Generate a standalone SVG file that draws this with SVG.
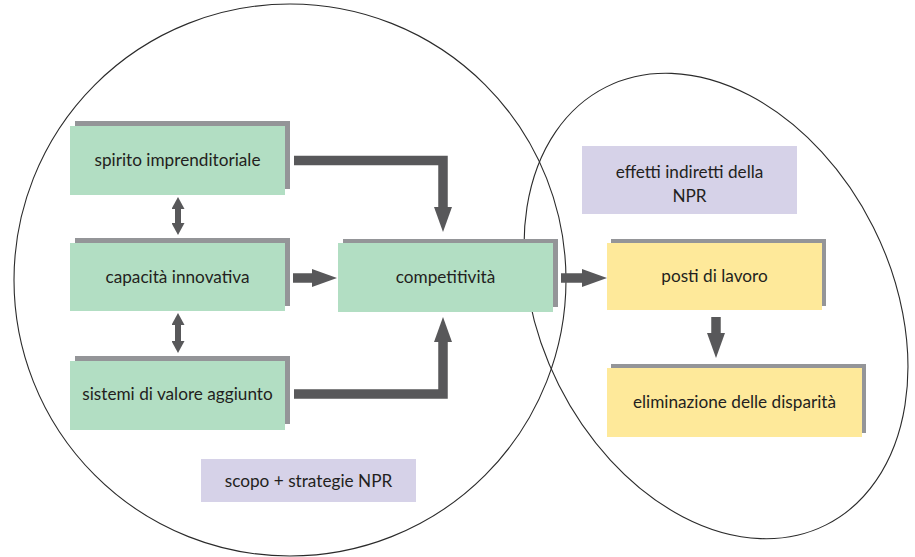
<svg xmlns="http://www.w3.org/2000/svg" width="915" height="557" viewBox="0 0 915 557">
<style>
.bg{fill:#ffffff}
.ring{fill:none;stroke:#2b2b2b;stroke-width:1.1}
.sh{fill:#949598}
.g{fill:#b2dec3}
.y{fill:#fee99a}
.p{fill:#d6d2e8}
text{font-family:Lato,"Open Sans","Liberation Sans",sans-serif;font-size:17.2px;fill:#231f20;text-anchor:middle}
.c{fill:none;stroke:#58585a;stroke-width:9.5;stroke-linejoin:miter;stroke-linecap:butt}
.d{fill:none;stroke:#58585a;stroke-width:6;stroke-linecap:butt}
</style>
<defs>
<marker id="ah" viewBox="0 0 25 18" markerWidth="25" markerHeight="18" refX="0" refY="9" orient="auto" markerUnits="userSpaceOnUse">
<path d="M0,0 L25,9 L0,18 Z" fill="#58585a"/>
</marker>
<marker id="ahs" viewBox="0 0 12 13" markerWidth="12" markerHeight="13" refX="0" refY="6.5" orient="auto-start-reverse" markerUnits="userSpaceOnUse">
<path d="M0,0 L12,6.5 L0,13 Z" fill="#58585a"/>
</marker>
</defs>
<rect class="bg" x="0" y="0" width="915" height="557"/>
<g id="scope-circle">
<ellipse class="ring" cx="290" cy="280" rx="276" ry="276"/>
</g>
<g id="effects-ellipse">
<ellipse class="ring" cx="716" cy="306" rx="176" ry="245" transform="rotate(-26.7 716 306)"/>
</g>
<g id="connectors">
<path class="c" d="M294,160.5 H443 V207" marker-end="url(#ah)"/>
<path class="c" d="M293,278 H312" marker-end="url(#ah)"/>
<path class="c" d="M561,278 H582" marker-end="url(#ah)"/>
<path class="c" d="M294,394 H443 V342" marker-end="url(#ah)"/>
<path class="c" d="M716,317 V333" marker-end="url(#ah)"/>
<path class="d" d="M178,209 V223" marker-start="url(#ahs)" marker-end="url(#ahs)"/>
<path class="d" d="M178,325 V341" marker-start="url(#ahs)" marker-end="url(#ahs)"/>
</g>
<g id="spirito">
<rect class="sh" x="75" y="121" width="215" height="68"/>
<rect class="g" x="70" y="126" width="215" height="69"/>
<text x="177.5" y="166">spirito imprenditoriale</text>
</g>
<g id="capacita">
<rect class="sh" x="75" y="238" width="215" height="68"/>
<rect class="g" x="70" y="243" width="215" height="68"/>
<text x="177.5" y="283">capacità innovativa</text>
</g>
<g id="sistemi">
<rect class="sh" x="75" y="356" width="215" height="68"/>
<rect class="g" x="70" y="361" width="215" height="69"/>
<text x="177.5" y="400">sistemi di valore aggiunto</text>
</g>
<g id="competitivita">
<rect class="sh" x="343" y="239" width="215" height="68"/>
<rect class="g" x="338" y="243" width="215" height="69"/>
<text x="445.5" y="283">competitività</text>
</g>
<g id="effetti">
<rect class="p" x="582" y="146" width="215" height="68"/>
<text x="689.5" y="178">effetti indiretti della</text>
<text x="689.5" y="202">NPR</text>
</g>
<g id="posti">
<rect class="sh" x="611" y="239" width="215" height="67"/>
<rect class="y" x="607" y="243" width="215" height="67"/>
<text x="714.5" y="282">posti di lavoro</text>
</g>
<g id="eliminazione">
<rect class="sh" x="611" y="364" width="255" height="69"/>
<rect class="y" x="607" y="368" width="255" height="69"/>
<text x="734.5" y="408">eliminazione delle disparità</text>
</g>
<g id="scopo">
<rect class="p" x="201" y="459" width="215" height="43"/>
<text x="308.5" y="487">scopo + strategie NPR</text>
</g>
</svg>
